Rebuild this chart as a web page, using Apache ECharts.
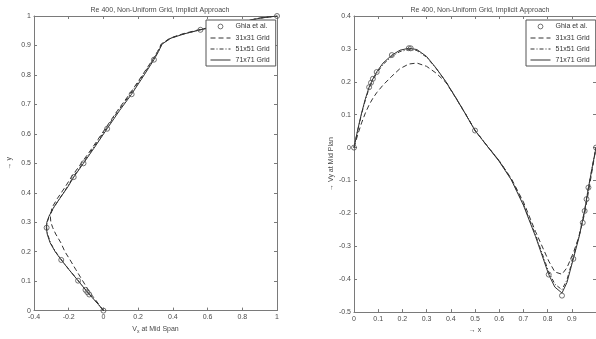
<!DOCTYPE html>
<html>
<head>
<meta charset="utf-8">
<script src="https://cdn.jsdelivr.net/npm/echarts@6/dist/echarts.min.js"></script>
<style>
  html, body { margin: 0; padding: 0; background: #fff; }
  #chart { width: 596px; height: 339px; }
</style>
</head>
<body>
<div id="chart"></div>
<script>
// Re = 400 lid-driven cavity, centreline velocity profiles

// Left panel: V_x along the vertical centreline (pairs of [u, y])
const yNodes = [0, 0.02, 0.04, 0.0547, 0.0703, 0.1016, 0.14, 0.1719, 0.2, 0.23,
  0.26, 0.2813, 0.30, 0.32, 0.35, 0.38, 0.42, 0.4531, 0.5, 0.55,
  0.6172, 0.68, 0.7344, 0.8, 0.8516, 0.88, 0.905, 0.925, 0.94, 0.9531,
  0.9688, 0.9766, 0.985, 0.993, 1];
const u71 = [0, -0.028, -0.058, -0.081, -0.103, -0.146, -0.200, -0.243, -0.278, -0.307,
  -0.324, -0.329, -0.326, -0.314, -0.287, -0.252, -0.205, -0.171, -0.115, -0.056,
  0.021, 0.094, 0.162, 0.235, 0.291, 0.318, 0.338, 0.39, 0.47, 0.559,
  0.684, 0.758, 0.84, 0.905, 1];
const u51 = [0, -0.027, -0.057, -0.080, -0.102, -0.145, -0.199, -0.241, -0.276, -0.305,
  -0.322, -0.327, -0.324, -0.312, -0.286, -0.253, -0.208, -0.175, -0.120, -0.061,
  0.015, 0.087, 0.155, 0.229, 0.286, 0.316, 0.337, 0.388, 0.468, 0.556,
  0.680, 0.755, 0.838, 0.904, 1];
const u31 = [0, -0.025, -0.050, -0.070, -0.088, -0.120, -0.160, -0.192, -0.222, -0.245,
  -0.275, -0.292, -0.303, -0.306, -0.296, -0.266, -0.220, -0.185, -0.128, -0.067,
  0.010, 0.082, 0.150, 0.225, 0.283, 0.312, 0.333, 0.384, 0.46, 0.548,
  0.672, 0.748, 0.832, 0.900, 1];
const ghiaU = [1, 0.75837, 0.68439, 0.61756, 0.55892, 0.29093, 0.16256, 0.02135, -0.11477,
  -0.17119, -0.32726, -0.24299, -0.14612, -0.10338, -0.09266, -0.08186, 0];
const ghiaUy = [1, 0.9766, 0.9688, 0.9609, 0.9531, 0.8516, 0.7344, 0.6172, 0.5,
  0.4531, 0.2813, 0.1719, 0.1016, 0.0703, 0.0625, 0.0547, 0];

// Right panel: V_y along the horizontal centreline (pairs of [x, v])
const xNodes = [0, 0.0156, 0.0313, 0.0469, 0.0625, 0.0781, 0.0938, 0.12, 0.1563, 0.19,
  0.2266, 0.26, 0.3, 0.34, 0.38, 0.42, 0.46, 0.5, 0.55, 0.6,
  0.65, 0.7, 0.75, 0.8047, 0.83, 0.8594, 0.88, 0.9063, 0.93, 0.9531,
  0.9688, 0.985, 1];
const v71 = [0, 0.055, 0.105, 0.148, 0.184, 0.209, 0.230, 0.257, 0.281, 0.296,
  0.302, 0.298, 0.277, 0.241, 0.200, 0.152, 0.103, 0.052, 0.005, -0.042,
  -0.098, -0.175, -0.270, -0.386, -0.424, -0.442, -0.410, -0.338, -0.272, -0.193,
  -0.122, -0.058, 0];
const v51 = [0, 0.053, 0.102, 0.145, 0.180, 0.205, 0.226, 0.253, 0.277, 0.292,
  0.298, 0.295, 0.275, 0.240, 0.200, 0.153, 0.104, 0.053, 0.006, -0.040,
  -0.096, -0.172, -0.265, -0.378, -0.415, -0.432, -0.402, -0.333, -0.268, -0.190,
  -0.120, -0.057, 0];
const v31 = [0, 0.040, 0.075, 0.105, 0.130, 0.150, 0.167, 0.190, 0.217, 0.240,
  0.254, 0.257, 0.247, 0.226, 0.198, 0.152, 0.103, 0.052, 0.005, -0.040,
  -0.094, -0.165, -0.255, -0.345, -0.378, -0.385, -0.365, -0.320, -0.270, -0.200,
  -0.135, -0.065, 0];
const ghiaX = [1, 0.9688, 0.9609, 0.9531, 0.9453, 0.9063, 0.8594, 0.8047, 0.5,
  0.2344, 0.2266, 0.1563, 0.0938, 0.0781, 0.0703, 0.0625, 0];
const ghiaV = [0, -0.12146, -0.15663, -0.19254, -0.22847, -0.33827, -0.44993, -0.38598, 0.05186,
  0.30174, 0.30203, 0.28124, 0.22965, 0.20920, 0.19713, 0.18360, 0];

const titleText = 'Re 400, Non-Uniform Grid, Implicit Approach';
const seriesNames = ['Ghia et al.', '31x31 Grid', '51x51 Grid', '71x71 Grid'];

const zip = (a, b) => a.map((v, i) => [v, b[i]]);

const FONT = '"Liberation Sans", Arial, sans-serif';
const AX = '#7a7a7a';
const TXT = '#4a4a4a';
const LINE = '#333';
const MARK = '#505050';
// small ring inside an 8x8 box, so the legend marker stays the size of the plotted ones
const RING = 'path://M0 0M8 8M4 1.6A2.4 2.4 0 1 1 4 6.4A2.4 2.4 0 1 1 4 1.6Z';

function mainAxis(pos, min, max, step, extra) {
  return Object.assign({
    type: 'value', position: pos, min: min, max: max, interval: step,
    axisLine: { show: true, onZero: false, lineStyle: { color: AX, width: 1 } },
    axisTick: { show: true, inside: true, length: 3, lineStyle: { color: AX } },
    axisLabel: { show: true, color: TXT, fontSize: 7, fontFamily: FONT, margin: 3 },
    splitLine: { show: false },
    nameTextStyle: { color: TXT, fontSize: 7, fontFamily: FONT }
  }, extra || {});
}
function boxAxis(pos, min, max, step, idx) {
  return {
    type: 'value', position: pos, min: min, max: max, interval: step, gridIndex: idx,
    axisLine: { show: true, onZero: false, lineStyle: { color: AX, width: 1 } },
    axisTick: { show: true, inside: true, length: 3, lineStyle: { color: AX } },
    axisLabel: { show: false },
    splitLine: { show: false }
  };
}

function lineSeries(name, data, xi, yi, dash) {
  return {
    name: name, type: 'line', data: data, xAxisIndex: xi, yAxisIndex: yi,
    symbol: 'none', smooth: false, z: 3,
    lineStyle: { color: LINE, width: 1, type: dash },
    itemStyle: { color: LINE }
  };
}
function ghiaSeries(data, xi, yi) {
  return {
    name: seriesNames[0], type: 'scatter', data: data, xAxisIndex: xi, yAxisIndex: yi,
    symbol: 'circle', symbolSize: 5, z: 4,
    itemStyle: { color: 'rgba(255,255,255,0)', borderColor: MARK, borderWidth: 1 }
  };
}

const DASH = [5, 3];
const DASHDOT = [4, 2, 1, 2];

function legendAt(left) {
  return {
    left: left, top: 20, orient: 'vertical', z: 20,
    data: [
      { name: seriesNames[0], icon: RING,
        itemStyle: { color: 'rgba(255,255,255,0)', borderColor: MARK, borderWidth: 1 } },
      { name: seriesNames[1], itemStyle: { opacity: 0 } },
      { name: seriesNames[2], itemStyle: { opacity: 0 } },
      { name: seriesNames[3], itemStyle: { opacity: 0 } }
    ],
    backgroundColor: '#fff', borderColor: '#555', borderWidth: 1,
    padding: [2, 6, 2, 4], itemWidth: 20, itemHeight: 8, itemGap: 3,
    selectedMode: false,
    lineStyle: { width: 1 },
    textStyle: { color: '#333', fontSize: 7, fontFamily: FONT, lineHeight: 8 }
  };
}

const chart = echarts.init(document.getElementById('chart'), null, { renderer: 'canvas' });
chart.setOption({
  animation: false,
  backgroundColor: '#fff',
  title: [
    { text: titleText, left: 155, top: 2, textAlign: 'center',
      textStyle: { fontSize: 7, fontWeight: 'normal', color: TXT, fontFamily: FONT } },
    { text: titleText, left: 475, top: 2, textAlign: 'center',
      textStyle: { fontSize: 7, fontWeight: 'normal', color: TXT, fontFamily: FONT } }
  ],
  legend: [legendAt(206), legendAt(526)],
  grid: [
    { left: 34, top: 16, width: 243, height: 297 },
    { left: 354, top: 16, width: 242, height: 297 }
  ],
  xAxis: [
    mainAxis('bottom', -0.4, 1, 0.2, { gridIndex: 0,
      name: 'V{s|x} at Mid Span', nameLocation: 'middle', nameGap: 13,
      nameTextStyle: { color: TXT, fontSize: 7, fontFamily: FONT,
        rich: { s: { fontSize: 5, verticalAlign: 'bottom', padding: [5, 0, 0, 0], color: TXT, fontFamily: FONT } } } }),
    boxAxis('top', -0.4, 1, 0.2, 0),
    mainAxis('bottom', 0, 1, 0.1, { gridIndex: 1,
      name: '\u2192 x', nameLocation: 'middle', nameGap: 13,
      axisLabel: { show: true, color: TXT, fontSize: 7, fontFamily: FONT, margin: 3, showMaxLabel: false } }),
    boxAxis('top', 0, 1, 0.1, 1)
  ],
  yAxis: [
    mainAxis('left', 0, 1, 0.1, { gridIndex: 0,
      name: '\u2192 y', nameLocation: 'middle', nameGap: 21 }),
    boxAxis('right', 0, 1, 0.1, 0),
    mainAxis('left', -0.5, 0.4, 0.1, { gridIndex: 1,
      name: '\u2192 Vy at Mid Plan', nameLocation: 'middle', nameGap: 19 }),
    boxAxis('right', -0.5, 0.4, 0.1, 1)
  ],
  series: [
    ghiaSeries(zip(ghiaU, ghiaUy), 0, 0),
    lineSeries(seriesNames[1], zip(u31, yNodes), 0, 0, DASH),
    lineSeries(seriesNames[2], zip(u51, yNodes), 0, 0, DASHDOT),
    lineSeries(seriesNames[3], zip(u71, yNodes), 0, 0, 'solid'),
    ghiaSeries(zip(ghiaX, ghiaV), 2, 2),
    lineSeries(seriesNames[1], zip(xNodes, v31), 2, 2, DASH),
    lineSeries(seriesNames[2], zip(xNodes, v51), 2, 2, DASHDOT),
    lineSeries(seriesNames[3], zip(xNodes, v71), 2, 2, 'solid')
  ]
});
</script>
</body>
</html>
